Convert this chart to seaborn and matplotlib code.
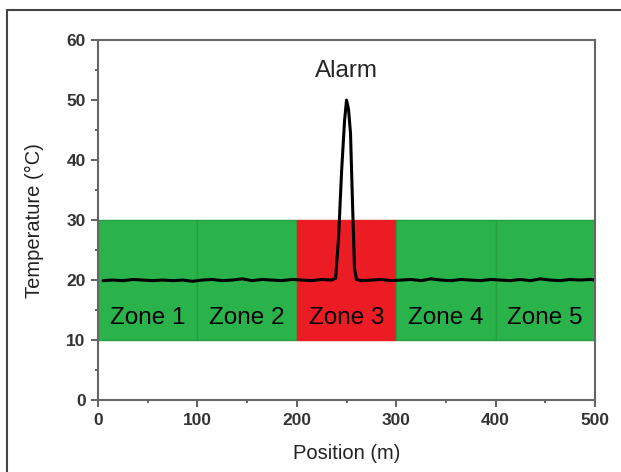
import matplotlib
matplotlib.use("Agg")
import matplotlib.pyplot as plt
import seaborn as sns
import pandas as pd
from matplotlib.patches import Rectangle
from matplotlib.ticker import MultipleLocator

# data
position = [5, 15, 25, 35, 45, 55, 65, 75, 85, 95, 105, 115, 125, 135, 145,
            155, 165, 175, 185, 195, 205, 215, 225, 235, 239, 242, 245, 248,
            250, 252, 254, 256, 258, 260, 265, 275, 285, 295, 305, 315, 325,
            335, 345, 355, 365, 375, 385, 395, 405, 415, 425, 435, 445, 455,
            465, 475, 485, 495, 500]
temperature = [19.9, 20.0, 19.9, 20.1, 20.0, 19.9, 20.0, 19.9, 20.0, 19.8,
               20.0, 20.1, 19.9, 20.0, 20.2, 19.9, 20.1, 20.0, 19.9, 20.1,
               20.0, 19.9, 20.1, 20.0, 20.3, 27.0, 38.0, 46.5, 50.0, 48.5,
               44.5, 33.0, 22.0, 20.1, 19.9, 20.0, 20.1, 19.9, 20.0, 20.1,
               19.9, 20.2, 20.0, 19.9, 20.1, 20.0, 19.9, 20.1, 20.0, 19.9,
               20.1, 19.9, 20.2, 20.0, 19.9, 20.1, 20.0, 20.1, 20.0]
zone_names = ["Zone 1", "Zone 2", "Zone 3", "Zone 4", "Zone 5"]
zone_start = [0, 100, 200, 300, 400]
zone_end = [100, 200, 300, 400, 500]
zone_alarm = [False, False, True, False, False]
zone_low, zone_high = 10, 30

green = "#2bb34b"
red = "#ec1c24"

sns.set_style("ticks")
plt.rcParams["font.family"] = ["Liberation Sans", "DejaVu Sans"]

fig = plt.figure(figsize=(6.21, 4.72), dpi=100)
ax = fig.add_axes([0.158, 0.1525, 0.8, 0.7625])

# outer frame of the figure
fig.patches.append(Rectangle((7 / 621, -0.1), 1.2, 1 - 10 / 472 + 0.1,
                             transform=fig.transFigure, fill=False,
                             edgecolor="#444444", linewidth=1.5))

for name, x0, x1, alarm in zip(zone_names, zone_start, zone_end, zone_alarm):
    ax.axvspan(x0, x1, ymin=zone_low / 60, ymax=zone_high / 60,
               facecolor=red if alarm else green,
               edgecolor="#22a040" if not alarm else red, linewidth=1, zorder=1)
    ax.text((x0 + x1) / 2, 13.6, name, ha="center", va="center",
            fontsize=17.5, color="black", zorder=3)

df = pd.DataFrame({"Position": position, "Temperature": temperature})
sns.lineplot(data=df, x="Position", y="Temperature", color="black",
             linewidth=2.2, ax=ax, zorder=2)

ax.text(250, 54.8, "Alarm", ha="center", va="center", fontsize=17.5)

ax.set_xlim(0, 500)
ax.set_ylim(0, 60)
ax.xaxis.set_major_locator(MultipleLocator(100))
ax.xaxis.set_minor_locator(MultipleLocator(50))
ax.yaxis.set_major_locator(MultipleLocator(10))
ax.yaxis.set_minor_locator(MultipleLocator(5))
ax.tick_params(which="major", direction="out", length=5, width=1.3,
               color="#555555", labelsize=12.5, labelcolor="#333333", pad=4)
ax.tick_params(which="minor", direction="out", length=2.5, width=1.3,
               color="#555555")
for lbl in ax.get_xticklabels() + ax.get_yticklabels():
    lbl.set_fontweight("bold")
for spine in ax.spines.values():
    spine.set_visible(True)
    spine.set_color("#666666")
    spine.set_linewidth(1.5)

ax.set_xlabel("Position (m)", fontsize=14.5, color="#222222", labelpad=12)
ax.set_ylabel("Temperature (°C)", fontsize=14.5, color="#222222", labelpad=16)

fig.savefig("out.png", dpi=100)
